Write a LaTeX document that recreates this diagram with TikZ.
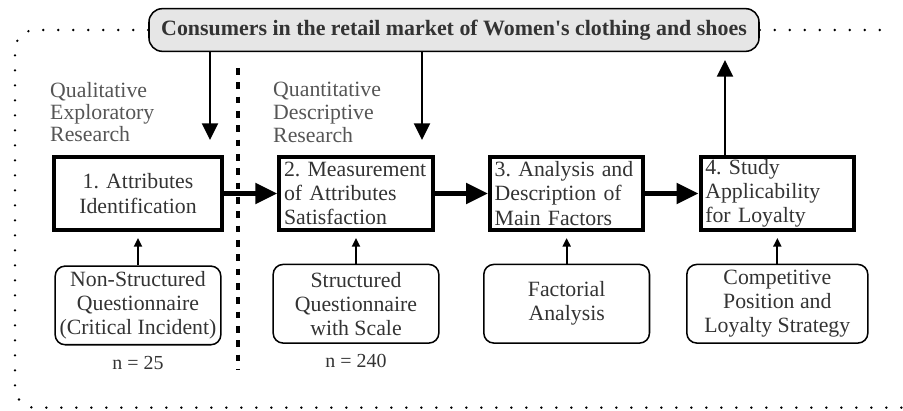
\documentclass[tikz,border=0pt]{standalone}
\usepackage{fontspec}
\setmainfont{Liberation Serif}
\usepackage{xcolor}
\usepackage{tikz}
\usetikzlibrary{arrows.meta, positioning, calc}

\definecolor{txtgray}{HTML}{333333}
\definecolor{lblgray}{HTML}{555555}
\definecolor{mktfill}{HTML}{E6E6E6}
\frenchspacing

\begin{document}
\begin{tikzpicture}[
  stage/.style={rectangle, draw, line width=0.12cm, text width=4.32cm, inner xsep=0.14cm,
                inner ysep=0.05cm, minimum height=2.19cm, align=left, text=txtgray,
                font=\fontsize{18.6}{20.7}\selectfont},
  tool/.style={rectangle, draw, rounded corners=0.3cm, line width=1.3pt, minimum width=4.97cm,
               minimum height=2.36cm, align=center, text=txtgray,
               font=\fontsize{18.6}{20.5}\selectfont},
  market/.style={rectangle, draw, rounded corners=0.4cm, line width=1.3pt, fill=mktfill,
                 minimum width=18.3cm, minimum height=1.28cm, text=txtgray,
                 font=\fontsize{18.7}{22}\selectfont\bfseries},
  lbl/.style={anchor=north west, inner sep=0pt, align=left, text=lblgray,
              font=\fontsize{18.6}{18.8}\selectfont},
  note/.style={text=txtgray, font=\fontsize{17}{19}\selectfont},
  arr/.style={-{Triangle[length=0.5cm, width=0.48cm]}, line width=0.06cm},
  bigarr/.style={-{Triangle[length=0.66cm, width=0.6cm]}, line width=0.15cm},
  smallarr/.style={-{Triangle[length=0.26cm, width=0.24cm]}, line width=0.06cm, shorten >=0.18cm},
  dots/.style={line width=0.08cm, dash pattern=on 0pt off 0.45cm, line cap=round},
  sep/.style={line width=0.12cm, dash pattern=on 0.2cm off 0.23cm},
]
\useasboundingbox (0,0) rectangle (27.09,12.33);

\node[market] (mkt) at (13.62,11.43) {Consumers in the retail market of Women\textquotesingle s clothing and shoes};

\node[stage, text width=4.76cm, align=center] (attr) at (4.14,6.525) {1. Attributes\\Identification};
\node[stage, right=1.6cm of attr] (meas) {2. Measurement\\of Attributes\\Satisfaction};
\node[stage, right=1.6cm of meas] (anal) {3. Analysis and\\Description of\\Main Factors};
\node[stage, right=1.6cm of anal] (loyal) {4. Study\\Applicability\\for Loyalty};

\node[tool, below=1.0cm of attr]  (nsq)  {Non-Structured\\Questionnaire\\(Critical Incident)};
\node[tool, below=0.95cm of meas] (sq)   {Structured\\Questionnaire\\with Scale};
\node[tool, below=0.95cm of anal] (fact) {Factorial\\Analysis};
\node[tool, minimum width=5.43cm, below=0.95cm of loyal] (comp) {Competitive\\Position and\\Loyalty Strategy};

\node[note, below=0.2cm of nsq] (n1) {n = 25};
\node[note, below=0.2cm of sq]  (n2) {n = 240};

\node[lbl] (qual) at (1.5,9.88) {Qualitative\\Exploratory\\Research};
\node[lbl, font=\fontsize{18.6}{19.6}\selectfont] (quan) at (8.19,9.88) {Quantitative\\Descriptive\\Research};

% frame and separator
\draw[dots, rounded corners=0.6cm] (mkt.west) -- (0.45,11.43) -- (0.45,0.1) -- (27.09,0.1);
\draw[dots] (mkt.east) -- (26.8,11.43);
\draw[sep] (7.14,10.29) -- (7.14,1.23);

\coordinate (d1) at (6.3,8.13);
\coordinate (d2) at (12.66,8.13);
\coordinate (u4) at (21.75,10.53);
\draw[arr] (mkt.south -| d1) -- (d1);
\draw[arr] (mkt.south -| d2) -- (d2);
\draw[arr] (loyal.north -| u4) -- (u4);

\draw[bigarr] (attr) -- (meas);
\draw[bigarr] (meas) -- (anal);
\draw[bigarr] (anal) -- (loyal);

\draw[smallarr] (nsq.north) -- (nsq.north |- attr.south);
\draw[smallarr] (sq.north) -- (sq.north |- meas.south);
\draw[smallarr] (fact.north) -- (fact.north |- anal.south);
\draw[smallarr] (comp.north) -- (comp.north |- loyal.south);
\end{tikzpicture}
\end{document}
